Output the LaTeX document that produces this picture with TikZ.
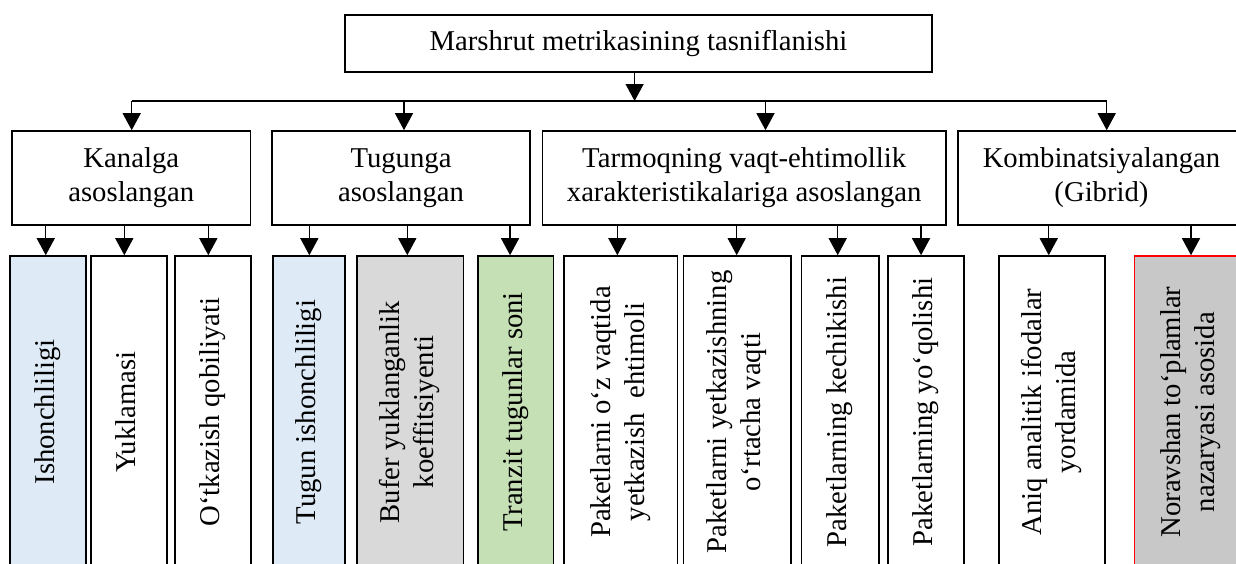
\documentclass[tikz,border=0pt]{standalone}
\usepackage{fontspec}
\setmainfont{Liberation Serif}
\usetikzlibrary{arrows.meta}
\definecolor{paleblue}{HTML}{DEEBF7}
\definecolor{palegray}{HTML}{D9D9D9}
\definecolor{palegreen}{HTML}{C5E0B4}
\definecolor{midgray}{HTML}{C8C8C8}
% text set bottom-to-top inside the tall leaf boxes
\newcommand{\uprot}[1]{\rotatebox{90}{\begin{tabular}{@{}c@{}}#1\end{tabular}}}
\begin{document}
\begin{tikzpicture}[x=1pt,y=-1pt,
  box/.style={draw, line width=1.6pt, inner sep=0pt, align=center,
              font=\fontsize{28.7}{34}\selectfont},
  headbox/.style={box, minimum width=587pt, minimum height=57pt},
  groupbox/.style={box, minimum height=94pt},
  leafbox/.style={box, minimum height=312pt},
  wire/.style={line width=1.3pt},
  arr/.style={wire, -{Triangle[length=17pt,width=18pt]}}]
\useasboundingbox (0,0) rectangle (1236,563);
\clip (0,0) rectangle (1236,563);

% root
\node[headbox] (top) at (638.5,43.5) {Marshrut metrikasining tasniflanishi};

% groups
\node[groupbox, minimum width=238.7pt] (kan) at (131.3,178) {Kanalga\\asoslangan};
\node[groupbox, minimum width=258pt]   (tug) at (401,178)   {Tugunga\\asoslangan};
\node[groupbox, minimum width=403.7pt] (tar) at (744.2,178) {Tarmoqning vaqt-ehtimollik\\xarakteristikalariga asoslangan};
\node[groupbox, minimum width=287.6pt] (kom) at (1101.5,178) {Kombinatsiyalangan\\(Gibrid)};

% leaves
\node[leafbox, minimum width=75.7pt, fill=paleblue]  (c1)  at (47.85,412)  {\uprot{Ishonchliligi}};
\node[leafbox, minimum width=76pt]                   (c2)  at (129,412)    {\uprot{Yuklamasi}};
\node[leafbox, minimum width=75.7pt]                 (c3)  at (212.85,412) {\uprot{O‘tkazish qobiliyati}};
\node[leafbox, minimum width=72.3pt, fill=paleblue]  (c4)  at (308.85,412) {\uprot{Tugun ishonchliligi}};
\node[leafbox, minimum width=106.6pt, fill=palegray] (c5)  at (410,412)    {\uprot{Bufer yuklanganlik\\koeffitsiyenti}};
\node[leafbox, minimum width=75.3pt, fill=palegreen] (c6)  at (515.65,412) {\uprot{Tranzit tugunlar soni}};
\node[leafbox, minimum width=113.3pt]                (c7)  at (620.65,412) {\uprot{Paketlarni o‘z vaqtida\\yetkazish\ \ ehtimoli}};
\node[leafbox, minimum width=107.4pt]                (c8)  at (737,412)    {\uprot{Paketlarni yetkazishning\\o‘rtacha vaqti}};
\node[leafbox, minimum width=77.4pt]                 (c9)  at (840,412)    {\uprot{Paketlarning kechikishi}};
\node[leafbox, minimum width=75.7pt]                 (c10) at (925.85,412) {\uprot{Paketlarning yo‘qolishi}};
\node[leafbox, minimum width=105.7pt]                (c11) at (1051.85,412){\uprot{Aniq analitik ifodalar\\yordamida}};
\node[leafbox, minimum width=113.4pt, draw=red, fill=midgray] (c12) at (1191,412) {\uprot{Noravshan to‘plamlar\\nazaryasi asosida}};

% distribution bus under the root
\coordinate (bT) at (634.6,101);
\coordinate (b1) at (131.7,101);
\coordinate (b2) at (404,101);
\coordinate (b3) at (765.5,101);
\coordinate (b4) at (1106.7,101);
\draw[wire] (b1) -- (b4);
\draw[arr] (top.south -| bT) -- (bT);
\foreach \b/\g in {b1/kan, b2/tug, b3/tar, b4/kom}
  \draw[arr] (\b) -- (\b |- \g.north);

% group to leaf connectors (slightly left of each leaf's centre)
\foreach \g/\c/\o in {kan/c1/-2.1, kan/c2/-4.7, kan/c3/-4.5,
                      tug/c4/0.5, tug/c5/-2.7, tug/c6/-5.6,
                      tar/c7/-3.3, tar/c8/-0.3, tar/c9/-2.3, tar/c10/-4.8,
                      kom/c11/-3.1, kom/c12/0}
  \draw[arr] ([xshift=\o pt]\c.north |- \g.south) -- ([xshift=\o pt]\c.north);
\end{tikzpicture}
\end{document}
